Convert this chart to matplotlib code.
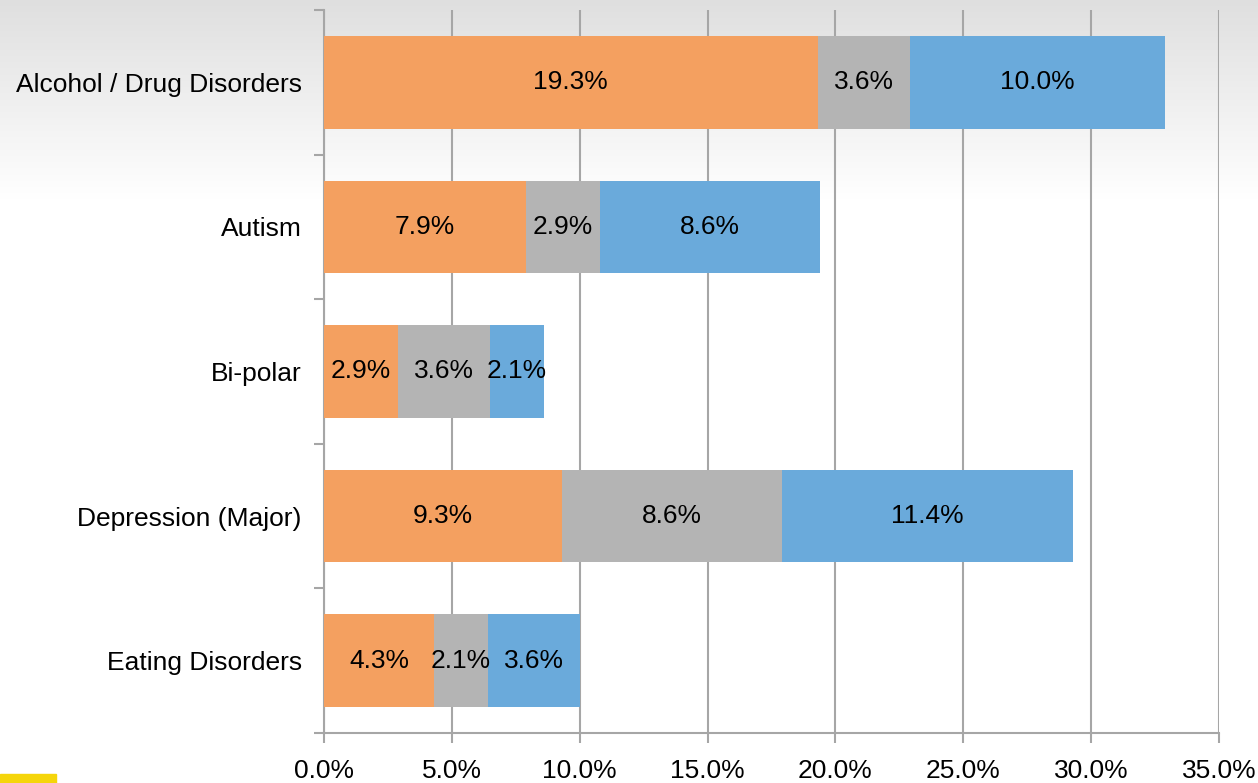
import matplotlib
matplotlib.use("Agg")
import matplotlib.pyplot as plt
import numpy as np
from matplotlib.patches import Rectangle

categories = ["Alcohol / Drug Disorders", "Autism", "Bi-polar", "Depression (Major)", "Eating Disorders"]
series1 = [19.3, 7.9, 2.9, 9.3, 4.3]
series2 = [3.6, 2.9, 3.6, 8.6, 2.1]
series3 = [10.0, 8.6, 2.1, 11.4, 3.6]
colors = ["#F4A060", "#B4B4B4", "#6AAADB"]
xticks = [0, 5, 10, 15, 20, 25, 30, 35]

plt.rcParams['font.family'] = ['Liberation Sans', 'DejaVu Sans']
FS = 19

W, H = 1258, 783
fig = plt.figure(figsize=(W / 100, H / 100), dpi=100)

# background gradient
bg = fig.add_axes([0, 0, 1, 1], zorder=-10)
grad = np.ones((H, 1))
top = 200
g = np.linspace(0.875, 1.0, top)
grad[:top, 0] = g
bg.imshow(np.dstack([grad, grad, grad]), aspect='auto', extent=[0, 1, 0, 1], interpolation='bilinear')
bg.add_patch(Rectangle((0, 0), 56 / W, 9 / H, color="#F5D50A", transform=bg.transAxes))
bg.axis('off')

ax = fig.add_axes([324 / W, 1 - 733 / H, (1219 - 324) / W, (733 - 10) / H])
ax.patch.set_alpha(0)

y = np.arange(len(categories))
left = np.zeros(len(categories))
for vals, c in zip([series1, series2, series3], colors):
    vals = np.array(vals)
    ax.barh(y, vals, left=left, height=0.64, color=c, zorder=3)
    for yi, l, v in zip(y, left, vals):
        ax.text(l + v / 2, yi, f"{v:.1f}%", ha='center', va='center', fontsize=FS, color='black', zorder=4)
    left = left + vals

ax.set_ylim(len(categories) - 0.5, -0.5)
ax.set_xlim(0, 35)
ax.set_yticks(y)
ax.set_yticklabels(categories, fontsize=FS)
ax.set_yticks(np.arange(-0.5, len(categories), 1), minor=True)
ax.tick_params(axis='y', which='major', length=0, pad=16)
ax.tick_params(axis='y', which='minor', length=7, width=1.5, color='#A6A6A6', direction='out')
ax.set_xticks(xticks)
ax.set_xticklabels([f"{t:.1f}%" for t in xticks], fontsize=FS)
ax.tick_params(axis='x', which='major', length=7, width=1.5, color='#A6A6A6', pad=12)
ax.grid(axis='x', color='#A6A6A6', linewidth=1.5, zorder=0)
for s in ['top', 'right']:
    ax.spines[s].set_visible(False)
for s in ['left', 'bottom']:
    ax.spines[s].set_color('#A6A6A6')
    ax.spines[s].set_linewidth(1.5)

fig.savefig("out.png", dpi=100)
